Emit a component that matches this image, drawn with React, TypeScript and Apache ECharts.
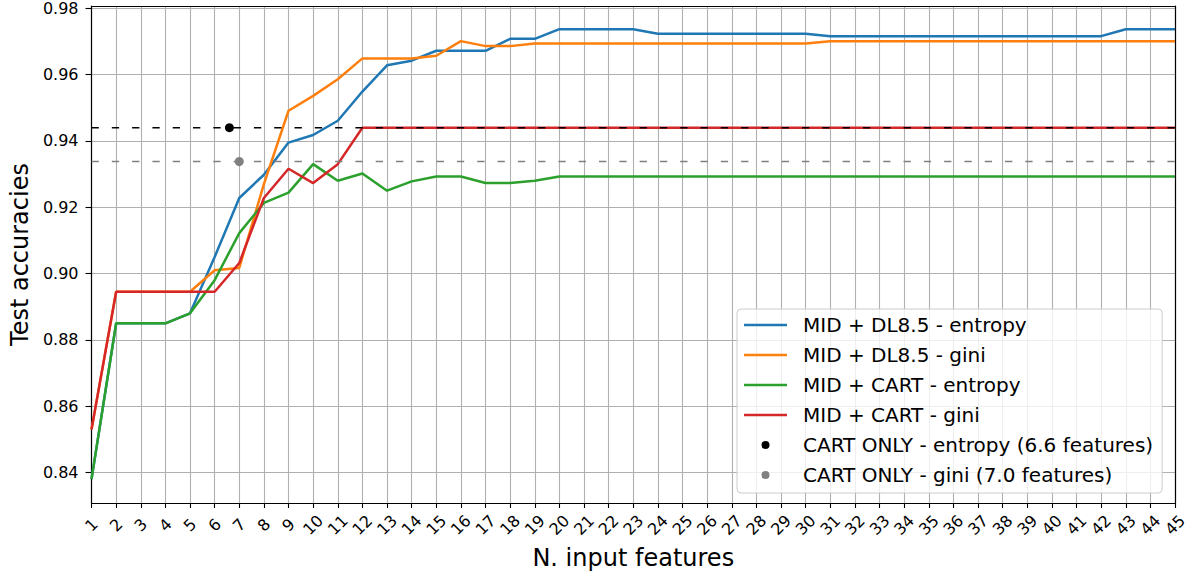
import React, { useEffect, useRef } from "react";
import * as echarts from "echarts";

const features = [1,2,3,4,5,6,7,8,9,10,11,12,13,14,15,16,17,18,19,20,21,22,23,24,25,26,27,28,29,30,31,32,33,34,35,36,37,38,39,40,41,42,43,44,45];

const dl85Entropy = [0.838,0.885,0.885,0.885,0.888,0.905,0.9228,0.9298,0.9395,0.9418,0.9461,0.9549,0.9628,0.9642,0.9672,0.9672,0.9672,0.9708,0.9708,0.9737,0.9737,0.9737,0.9737,0.9723,0.9723,0.9723,0.9723,0.9723,0.9723,0.9723,0.9716,0.9716,0.9716,0.9716,0.9716,0.9716,0.9716,0.9716,0.9716,0.9716,0.9716,0.9716,0.9737,0.9737,0.9737];

const dl85Gini = [0.853,0.8945,0.8945,0.8945,0.8945,0.901,0.9017,0.927,0.9491,0.9536,0.9586,0.9649,0.9649,0.9649,0.9657,0.9701,0.9686,0.9686,0.9694,0.9694,0.9694,0.9694,0.9694,0.9694,0.9694,0.9694,0.9694,0.9694,0.9694,0.9694,0.9701,0.9701,0.9701,0.9701,0.9701,0.9701,0.9701,0.9701,0.9701,0.9701,0.9701,0.9701,0.9701,0.9701,0.9701];

const cartEntropy = [0.838,0.885,0.885,0.885,0.888,0.898,0.9122,0.9213,0.9244,0.933,0.928,0.9302,0.925,0.9278,0.9293,0.9293,0.9273,0.9273,0.928,0.9293,0.9293,0.9293,0.9293,0.9293,0.9293,0.9293,0.9293,0.9293,0.9293,0.9293,0.9293,0.9293,0.9293,0.9293,0.9293,0.9293,0.9293,0.9293,0.9293,0.9293,0.9293,0.9293,0.9293,0.9293,0.9293];

const cartGini = [0.853,0.8945,0.8945,0.8945,0.8945,0.8945,0.9032,0.9228,0.9316,0.9273,0.933,0.944,0.944,0.944,0.944,0.944,0.944,0.944,0.944,0.944,0.944,0.944,0.944,0.944,0.944,0.944,0.944,0.944,0.944,0.944,0.944,0.944,0.944,0.944,0.944,0.944,0.944,0.944,0.944,0.944,0.944,0.944,0.944,0.944,0.944];

const cartOnlyEntropy = { features: 6.6, accuracy: 0.944 };
const cartOnlyGini = { features: 7.0, accuracy: 0.9338 };

const yTicks = [0.84, 0.86, 0.88, 0.9, 0.92, 0.94, 0.96, 0.98];

const seriesNames = [
  "MID + DL8.5 - entropy",
  "MID + DL8.5 - gini",
  "MID + CART - entropy",
  "MID + CART - gini",
  "CART ONLY - entropy (6.6 features)",
  "CART ONLY - gini (7.0 features)",
];

const colors = ["#1f77b4", "#ff7f0e", "#2ca02c", "#d62728", "#000000", "#808080"];

const zip = (ys: number[]) => features.map((x, i) => [x, ys[i]]);

const lineIcon = "path://M0,0H43V2.5H0Z M53.9,0H54V0.1H53.9Z";
const dotIcon = "path://M17.5,5A4,4 0 1,1 25.5,5A4,4 0 1,1 17.5,5Z M0,1H0.1V1.1H0Z M53.9,9H54V9.1H53.9Z";

export default function App() {
  const ref = useRef<HTMLDivElement>(null);
  useEffect(() => {
    if (!ref.current) return;
    const chart = echarts.init(ref.current, null, { renderer: "svg" });
    const font = "DejaVu Sans";
    const xMin = features[0];
    const xMax = features[features.length - 1];
    const lineSeries = [dl85Entropy, dl85Gini, cartEntropy, cartGini].map((ys, i) => ({
      name: seriesNames[i],
      type: "line",
      data: zip(ys),
      symbol: "none",
      showSymbol: false,
      lineStyle: { width: 2.5, color: colors[i] },
      itemStyle: { color: colors[i] },
      z: 3 + i,
    }));
    const dashSeries = [
      { v: cartOnlyEntropy.accuracy, c: "#000000" },
      { v: cartOnlyGini.accuracy, c: "#808080" },
    ].map((d) => ({
      type: "line",
      data: [[xMin, d.v], [xMax, d.v]],
      symbol: "none",
      showSymbol: false,
      silent: true,
      lineStyle: { width: 1.5, color: d.c, type: [7.3, 13] },
      z: 8,
    }));
    const scatterSeries = [cartOnlyEntropy, cartOnlyGini].map((p, i) => ({
      name: seriesNames[4 + i],
      type: "scatter",
      data: [[p.features, p.accuracy]],
      symbol: "circle",
      symbolSize: 9,
      itemStyle: { color: colors[4 + i], opacity: 1 },
      z: 10,
    }));

    chart.setOption({
      animation: false,
      textStyle: { fontFamily: font },
      grid: { left: 88, right: 20, top: 6, bottom: 76, containLabel: false },
      legend: {
        orient: "vertical",
        left: 737,
        top: 309,
        padding: [6, 9, 8, 7],
        itemWidth: 54,
        itemHeight: 10,
        itemGap: 10,
        backgroundColor: "rgba(255,255,255,0.8)",
        borderColor: "#cccccc",
        borderWidth: 1,
        borderRadius: 4,
        selectedMode: false,
        textStyle: { fontFamily: font, fontSize: 20, lineHeight: 20, color: "#000" },
        data: seriesNames.map((n, i) => ({
          name: n,
          icon: i < 4 ? lineIcon : dotIcon,
          itemStyle: { color: colors[i], borderWidth: 0, opacity: 1 },
        })),
      },
      xAxis: [
        {
          type: "value",
          min: xMin,
          max: xMax,
          interval: 1,
          name: "N. input features",
          nameLocation: "middle",
          nameGap: 43,
          nameTextStyle: { fontFamily: font, fontSize: 24, color: "#000" },
          axisLine: { show: true, lineStyle: { color: "#000", width: 1.2 } },
          axisTick: { show: true, length: 5, lineStyle: { color: "#000", width: 1.1 } },
          axisLabel: {
            rotate: 45,
            align: "center",
            verticalAlign: "middle",
            margin: 22,
            fontSize: 16,
            color: "#000",
            fontFamily: font,
          },
          splitLine: { show: true, lineStyle: { color: "#b0b0b0", width: 1.1 } },
        },
        {
          type: "value",
          position: "top",
          min: xMin,
          max: xMax,
          interval: 1,
          axisLine: { show: true, onZero: false, lineStyle: { color: "#000", width: 1.2 } },
          axisTick: { show: false },
          axisLabel: { show: false },
          splitLine: { show: false },
        },
      ],
      yAxis: [
        {
          type: "value",
          min: 0.8308,
          max: 0.9807,
          name: "Test accuracies",
          nameLocation: "middle",
          nameGap: 55,
          nameTextStyle: { fontFamily: font, fontSize: 24, color: "#000" },
          axisLine: { show: true, lineStyle: { color: "#000", width: 1.2 } },
          axisTick: { show: true, length: 6, customValues: yTicks, lineStyle: { color: "#000", width: 1.1 } },
          axisLabel: {
            customValues: yTicks,
            formatter: (v: number) => v.toFixed(2),
            fontSize: 16,
            margin: 13,
            color: "#000",
            fontFamily: font,
          },
          splitLine: { show: true, lineStyle: { color: "#b0b0b0", width: 1.1 } },
        },
        {
          type: "value",
          position: "right",
          min: 0.8308,
          max: 0.9807,
          axisLine: { show: true, onZero: false, lineStyle: { color: "#000", width: 1.2 } },
          axisTick: { show: false },
          axisLabel: { show: false },
          splitLine: { show: false },
        },
      ],
      series: [...lineSeries, ...dashSeries, ...scatterSeries],
    });
    return () => chart.dispose();
  }, []);
  return (
    <div
      ref={ref}
      style={{ position: "fixed", left: 0, top: 0, width: 1195, height: 579, background: "#fff" }}
    />
  );
}
